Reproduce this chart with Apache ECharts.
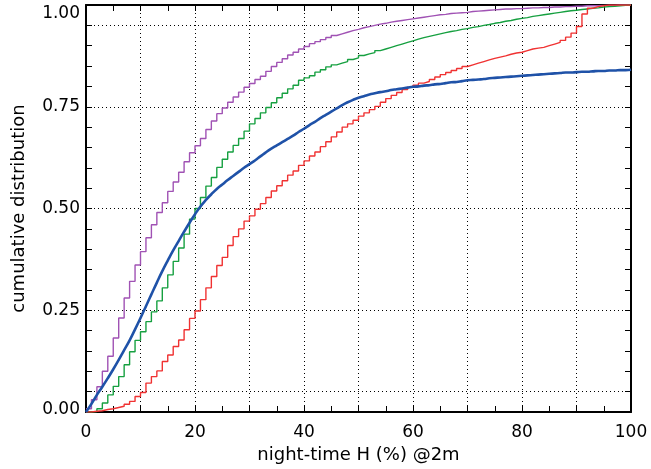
<!DOCTYPE html>
<html>
<head>
<meta charset="utf-8">
<script src="https://cdn.jsdelivr.net/npm/echarts@6/dist/echarts.min.js"></script>
<style>html,body{margin:0;padding:0;background:#fff}#c{width:651px;height:469px}</style>
</head>
<body>
<div id="c"></div>
<script>
// Bin values (cumulative fraction) for bins x = 0..99, width 1
const purpleCdf = [0.008,0.030,0.062,0.100,0.137,0.182,0.231,0.280,0.321,0.361,
  0.394,0.428,0.460,0.490,0.514,0.542,0.565,0.589,0.615,0.637,
  0.654,0.672,0.694,0.715,0.733,0.747,0.761,0.774,0.786,0.798,
  0.807,0.817,0.825,0.837,0.849,0.859,0.868,0.877,0.884,0.892,
  0.898,0.905,0.910,0.915,0.920,0.925,0.929,0.933,0.937,0.940,
  0.944,0.947,0.950,0.953,0.955,0.958,0.960,0.962,0.964,0.966,
  0.968,0.970,0.972,0.974,0.976,0.977,0.979,0.980,0.981,0.982,
  0.984,0.985,0.986,0.987,0.988,0.989,0.990,0.990,0.991,0.991,
  0.992,0.993,0.993,0.994,0.994,0.995,0.995,0.996,0.996,0.997,
  0.997,0.998,0.998,0.998,0.999,0.999,0.999,1.000,1.000,1.000];
const greenCdf = [0.000,0.001,0.008,0.022,0.042,0.063,0.087,0.116,0.148,0.176,
  0.197,0.222,0.246,0.273,0.305,0.337,0.370,0.403,0.437,0.474,
  0.500,0.527,0.555,0.576,0.601,0.621,0.639,0.655,0.672,0.690,
  0.708,0.721,0.735,0.748,0.760,0.772,0.783,0.794,0.803,0.815,
  0.821,0.826,0.835,0.841,0.848,0.853,0.857,0.861,0.866,0.870,
  0.876,0.880,0.883,0.888,0.892,0.896,0.900,0.904,0.908,0.912,
  0.916,0.920,0.923,0.926,0.929,0.932,0.935,0.937,0.940,0.942,
  0.945,0.947,0.950,0.952,0.955,0.957,0.960,0.962,0.965,0.967,
  0.969,0.972,0.974,0.976,0.978,0.980,0.982,0.984,0.986,0.987,
  0.989,0.990,0.992,0.993,0.995,0.996,0.997,0.998,0.999,1.000];
const redCdf = [0.000,0.002,0.003,0.006,0.008,0.011,0.014,0.019,0.026,0.038,
  0.048,0.071,0.087,0.101,0.124,0.140,0.161,0.177,0.202,0.230,
  0.248,0.276,0.305,0.333,0.360,0.380,0.409,0.431,0.450,0.469,
  0.482,0.498,0.512,0.527,0.543,0.556,0.568,0.582,0.592,0.606,
  0.617,0.629,0.639,0.652,0.664,0.676,0.688,0.700,0.708,0.717,
  0.727,0.735,0.743,0.751,0.761,0.770,0.778,0.785,0.792,0.798,
  0.803,0.808,0.812,0.817,0.823,0.829,0.834,0.839,0.844,0.849,
  0.853,0.857,0.861,0.865,0.869,0.872,0.875,0.879,0.882,0.884,
  0.888,0.892,0.894,0.896,0.900,0.904,0.908,0.913,0.921,0.931,
  0.947,0.978,0.992,0.996,0.998,1.000,1.000,1.000,1.000,1.000];
// Smooth curve sampled at x = 0..100
const blueCdf = [0.000,0.020,0.042,0.062,0.083,0.105,0.128,0.152,0.176,0.203,
  0.231,0.260,0.289,0.318,0.346,0.372,0.397,0.420,0.443,0.465,
  0.486,0.505,0.521,0.535,0.548,0.559,0.570,0.580,0.590,0.600,
  0.609,0.618,0.628,0.638,0.647,0.655,0.663,0.671,0.679,0.688,
  0.696,0.705,0.713,0.722,0.730,0.738,0.746,0.754,0.761,0.767,
  0.772,0.776,0.780,0.783,0.786,0.788,0.791,0.793,0.795,0.797,
  0.799,0.800,0.802,0.803,0.805,0.806,0.808,0.810,0.811,0.813,
  0.815,0.816,0.817,0.818,0.820,0.821,0.822,0.823,0.824,0.825,
  0.826,0.827,0.828,0.829,0.830,0.831,0.832,0.833,0.834,0.834,
  0.835,0.836,0.836,0.837,0.838,0.838,0.839,0.839,0.840,0.840,0.841];
const xLabelValues = [0,20,40,60,80,100];
const yLabelValues = [0.00,0.25,0.50,0.75,1.00];
const xGridValues = [10,20,30,40,50,60,70,80,90];
const yGridValues = [0.05,0.25,0.50,0.75,0.95];
const xTitle = 'night-time H (%) @2m';
const yTitle = 'cumulative distribution';

function stepData(arr){
  const d = arr.map((v,i)=>[i,v]);
  d.push([arr.length, arr[arr.length-1]]);
  return d;
}
const FONT = 'DejaVu Sans';
const xStep = 5, yStep = 0.05;
const xColors = [], yColors = [];
for (let i = 0; i <= 100/xStep; i++) {
  xColors.push(xGridValues.some(g => Math.abs(g - i*xStep) < 1e-6) ? '#000' : 'rgba(0,0,0,0)');
}
for (let i = 0; i <= Math.round(1/yStep); i++) {
  yColors.push(yGridValues.some(g => Math.abs(g - i*yStep) < 1e-6) ? '#000' : 'rgba(0,0,0,0)');
}
const dotted = {type:[1,3], width:1};
const axisLine = {show:true, onZero:false, lineStyle:{color:'#000', width:2}};
const tick = {show:true, inside:true, length:6, lineStyle:{color:'#000', width:1}};

const chart = echarts.init(document.getElementById('c'), null, {renderer:'canvas'});
chart.setOption({
  animation:false,
  backgroundColor:'#fff',
  grid:{left:86, right:20, top:5, bottom:55, containLabel:false},
  xAxis:[
    {type:'value', position:'bottom', min:0, max:100, interval:xStep,
     axisLine:axisLine, axisTick:tick,
     axisLabel:{show:true, margin:12, color:'#000', fontFamily:FONT, fontSize:17,
       formatter:v => xLabelValues.some(l=>Math.abs(l-v)<1e-6) ? String(Math.round(v)) : ''},
     splitLine:{show:true, lineStyle:Object.assign({color:xColors}, dotted)},
     name:xTitle, nameLocation:'middle', nameGap:34,
     nameTextStyle:{color:'#000', fontFamily:FONT, fontSize:18}},
    {type:'value', position:'top', min:0, max:100, interval:xStep,
     axisLine:axisLine, axisTick:tick, axisLabel:{show:false}, splitLine:{show:false}}
  ],
  yAxis:[
    {type:'value', position:'left', min:0, max:1, interval:yStep,
     axisLine:axisLine, axisTick:tick,
     axisLabel:{show:true, margin:6, color:'#000', fontFamily:FONT, fontSize:17,
       formatter:v => {
         if (!yLabelValues.some(l=>Math.abs(l-v)<1e-6)) return '';
         const s = v.toFixed(2);
         if (Math.abs(v) < 1e-6) return '{lo|' + s + '}';
         if (Math.abs(v-1) < 1e-6) return '{hi|' + s + '}';
         return s;
       },
       rich:{
         lo:{fontFamily:FONT, fontSize:17, color:'#000', padding:[0,0,5,0]},
         hi:{fontFamily:FONT, fontSize:17, color:'#000', padding:[17,0,0,0]}
       }},
     splitLine:{show:true, lineStyle:Object.assign({color:yColors}, dotted)},
     name:yTitle, nameLocation:'middle', nameGap:58, nameRotate:90,
     nameTextStyle:{color:'#000', fontFamily:FONT, fontSize:18}},
    {type:'value', position:'right', min:0, max:1, interval:yStep,
     axisLine:axisLine, axisTick:tick, axisLabel:{show:false}, splitLine:{show:false}}
  ],
  series:[
    {type:'line', step:'end', data:stepData(purpleCdf), showSymbol:false,
     lineStyle:{color:'#a052b4', width:1.4}, itemStyle:{color:'#a052b4'}, z:3},
    {type:'line', step:'end', data:stepData(greenCdf), showSymbol:false,
     lineStyle:{color:'#16a040', width:1.4}, itemStyle:{color:'#16a040'}, z:3},
    {type:'line', step:'end', data:stepData(redCdf), showSymbol:false,
     lineStyle:{color:'#f03232', width:1.4}, itemStyle:{color:'#f03232'}, z:3},
    {type:'line', smooth:true, data:blueCdf.map((v,i)=>[i,v]), showSymbol:false,
     lineStyle:{color:'#1f52a8', width:2.6}, itemStyle:{color:'#1f52a8'}, z:4}
  ]
});
</script>
</body>
</html>
